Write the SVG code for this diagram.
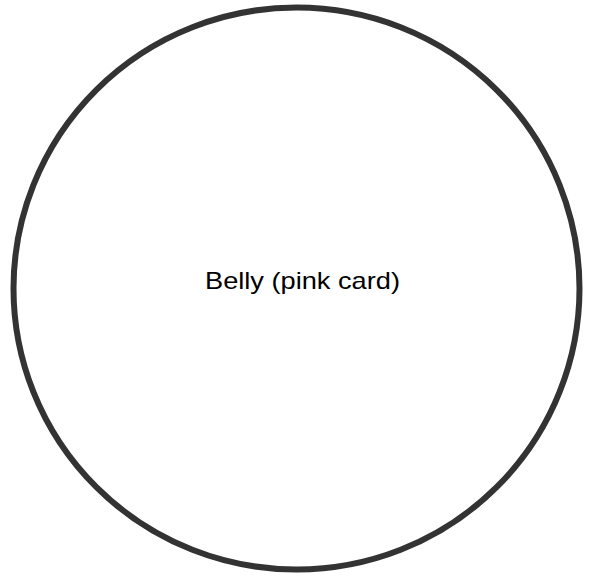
<svg xmlns="http://www.w3.org/2000/svg" width="598" height="577" viewBox="0 0 598 577">
<style>
.outline{fill:#ffffff;stroke:#333333;stroke-width:6}
.label{font-family:"Liberation Sans",Arial,sans-serif;font-size:24px;fill:#000000}
</style>
<rect width="598" height="577" fill="#ffffff"/>
<g id="belly">
<ellipse class="outline" cx="296.5" cy="288.5" rx="283" ry="281"/>
<text class="label" x="205" y="289" textLength="195" lengthAdjust="spacingAndGlyphs">Belly (pink card)</text>
</g>
</svg>
